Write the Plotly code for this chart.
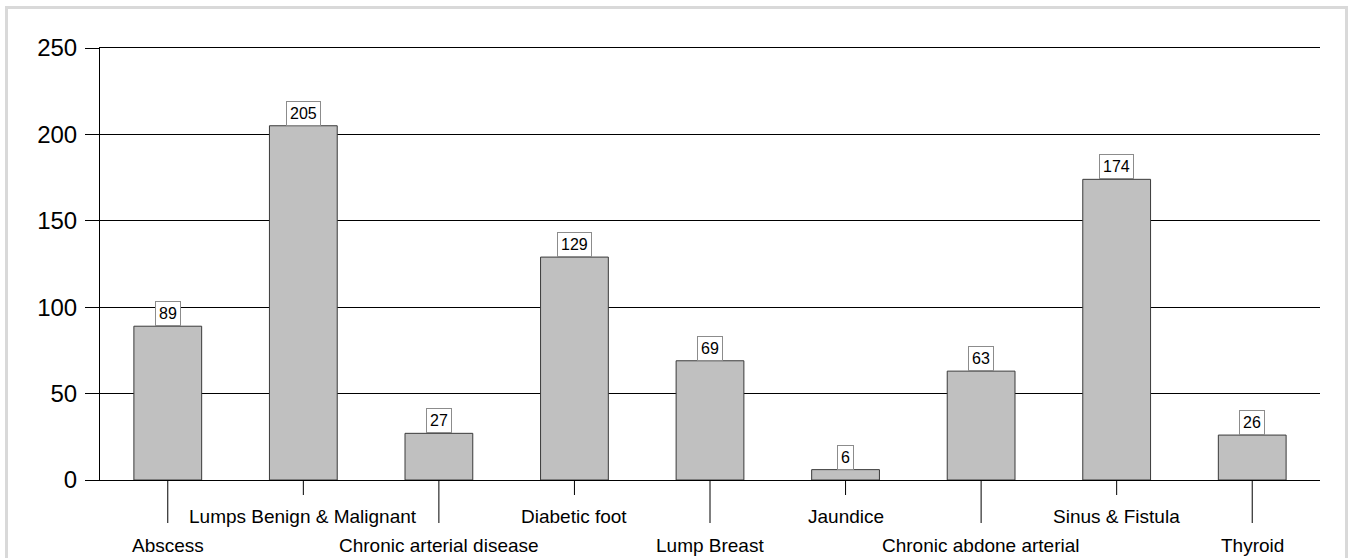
import plotly.graph_objects as go

categories = ["Abscess", "Lumps Benign & Malignant", "Chronic arterial disease",
              "Diabetic foot", "Lump Breast", "Jaundice",
              "Chronic abdone arterial", "Sinus & Fistula", "Thyroid"]
values = [89, 205, 27, 129, 69, 6, 63, 174, 26]
y_ticks = [0, 50, 100, 150, 200, 250]

FONT = "Liberation Sans, Arial, sans-serif"

fig = go.Figure()
fig.add_trace(go.Bar(
    x=categories, y=values, width=0.5,
    marker=dict(color="#c0c0c0", line=dict(color="#3a3a3a", width=1)),
    hoverinfo="x+y",
))

annotations = []
shapes = []
for i, (c, v) in enumerate(zip(categories, values)):
    # value label boxes
    annotations.append(dict(
        x=c, y=v, xref="x", yref="y", text=str(v), showarrow=False,
        yanchor="bottom", font=dict(family=FONT, size=16, color="black"),
        bgcolor="white", bordercolor="#8c8c8c", borderwidth=1, borderpad=3,
    ))
    long = (i % 2 == 0)
    # staggered tick lines
    shapes.append(dict(
        type="line", xref="x", yref="paper", x0=c, x1=c,
        y0=0, y1=-(43 if long else 15) / 432,
        line=dict(color="black", width=1),
    ))
    # staggered category labels
    annotations.append(dict(
        x=c, y=0, xref="x", yref="paper", text=c, showarrow=False,
        yanchor="top", yshift=-(53 if long else 24),
        font=dict(family=FONT, size=19, color="black"),
    ))

# outer light-grey frame
shapes.append(dict(
    type="rect", xref="paper", yref="paper",
    x0=(6.5 - 100) / 1220, x1=(1346.5 - 100) / 1220,
    y0=(480 - 600) / 432, y1=(480 - 7.5) / 432,
    line=dict(color="#d9d9d9", width=3), fillcolor="rgba(0,0,0,0)", layer="below",
))

fig.update_layout(
    width=1350, height=558,
    margin=dict(l=100, r=30, t=48, b=78),
    paper_bgcolor="white", plot_bgcolor="white",
    showlegend=False,
    annotations=annotations, shapes=shapes,
    font=dict(family=FONT, color="black"),
    bargap=0.5,
)
fig.update_xaxes(
    showticklabels=False, ticks="", showgrid=False,
    showline=True, linecolor="black", linewidth=1, mirror=True,
    range=[-0.5, len(categories) - 0.5],
)
fig.update_yaxes(
    range=[0, 250], tickvals=y_ticks,
    showgrid=True, gridcolor="black", gridwidth=1,
    showline=True, linecolor="black", linewidth=1,
    ticks="outside", ticklen=14, tickcolor="black", tickwidth=1,
    tickfont=dict(family=FONT, size=24, color="black"),
    ticklabelstandoff=3,
    zeroline=False,
)

fig.write_html("out.html", config={"displayModeBar": False},
               post_script="document.body.style.margin='0';document.body.style.overflow='hidden';")
